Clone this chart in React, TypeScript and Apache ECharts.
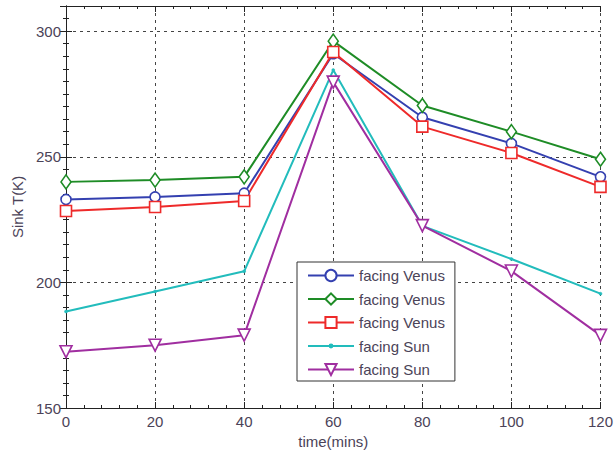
import React, { useEffect, useRef } from 'react';
import * as echarts from 'echarts';

const times = [0, 20, 40, 60, 80, 100, 120];
const venusBlue = [233, 234, 235.5, 291, 265.7, 255.3, 242];
const venusGreen = [240, 240.7, 242, 296, 270.4, 260, 249];
const venusRed = [228.4, 230, 232.4, 291.7, 262, 251.5, 238];
const sunCyan = [188.4, 196.4, 204.4, 284.5, 222.5, 209.3, 195.5];
const sunMagenta = [172.4, 175, 179, 279.7, 222.6, 204.5, 178.9];
const seriesNames = ['facing Venus 1', 'facing Venus 2', 'facing Venus 3', 'facing Sun 1', 'facing Sun 2'];

const FONT = "'Liberation Sans', Arial, sans-serif";
const TXT = '#4b4358';
const DOT = 'path://M0,0M12,12M4.5,6A1.5,1.5,0,1,0,7.5,6A1.5,1.5,0,1,0,4.5,6Z';

export default function App() {
  const ref = useRef<HTMLDivElement>(null);
  useEffect(() => {
    const chart = echarts.init(ref.current!, null, { renderer: 'svg' });
    const pairs = (ys: number[]) => times.map((t, i) => [t, ys[i]]);
    const axisLine = { show: true, lineStyle: { color: '#222', width: 1 } };
    const tick = { show: true, inside: true, length: 6, lineStyle: { color: '#222' } };
    const minor = (n: number) => ({ show: true, splitNumber: n, length: 3, lineStyle: { color: '#222' } });
    const split = { show: true, lineStyle: { color: '#444', type: [3, 4], width: 1 } };
    const mk = (name: string, data: number[], color: string, symbol: string, size: any, rotate = 0, filled = false) => ({
      type: 'line',
      name,
      data: pairs(data),
      symbol,
      symbolSize: size,
      symbolRotate: rotate,
      showSymbol: true,
      lineStyle: { color, width: 2 },
      itemStyle: filled
        ? { color, borderColor: color, borderWidth: 0.5 }
        : { color: '#fff', borderColor: color, borderWidth: 1.6 },
      color,
    });
    chart.setOption({
      animation: false,
      backgroundColor: '#fff',
      grid: { left: 66, right: 13, top: 6, bottom: 46 },
      legend: {
        left: 297,
        top: 262,
        orient: 'vertical',
        itemWidth: 46,
        itemHeight: 14,
        itemGap: 8.5,
        padding: [6, 10, 4, 10],
        borderColor: '#333',
        borderWidth: 1,
        backgroundColor: '#fff',
        formatter: (n: string) => n.replace(/ \d$/, ''),
        textStyle: { fontFamily: FONT, fontSize: 15, color: TXT },
        data: seriesNames,
      },
      xAxis: [
        {
          type: 'value', min: 0, max: 120, interval: 20, position: 'bottom',
          axisLine, axisTick: tick, minorTick: minor(5), splitLine: split,
          axisLabel: { fontFamily: FONT, fontSize: 15, color: TXT, margin: 6 },
          name: 'time(mins)', nameLocation: 'middle', nameGap: 24,
          nameTextStyle: { fontFamily: FONT, fontSize: 15, color: TXT },
        },
        {
          type: 'value', min: 0, max: 120, interval: 20, position: 'top',
          axisLine, axisTick: tick, minorTick: minor(5), splitLine: { show: false },
          axisLabel: { show: false },
        },
      ],
      yAxis: [
        {
          type: 'value', min: 150, max: 310, interval: 50, position: 'left',
          axisLine, axisTick: tick, minorTick: minor(10), splitLine: split,
          axisLabel: { fontFamily: FONT, fontSize: 15, color: TXT, margin: 5, showMaxLabel: false },
          name: 'Sink T(K)', nameLocation: 'middle', nameGap: 38,
          nameTextStyle: { fontFamily: FONT, fontSize: 15, color: TXT },
        },
        {
          type: 'value', min: 150, max: 310, interval: 50, position: 'right',
          axisLine, axisTick: tick, minorTick: minor(10), splitLine: { show: false },
          axisLabel: { show: false },
        },
      ],
      series: [
        mk(seriesNames[0], venusBlue, '#3440b0', 'circle', 10),
        mk(seriesNames[1], venusGreen, '#1e8c26', 'diamond', [10, 14]),
        mk(seriesNames[2], venusRed, '#ee2a2a', 'rect', 11),
        mk(seriesNames[3], sunCyan, '#22bcbc', DOT, 12, 0, true),
        mk(seriesNames[4], sunMagenta, '#a02ea0', 'triangle', 12, 180),
      ],
    });
    return () => chart.dispose();
  }, []);
  return <div ref={ref} style={{ width: 616, height: 454, position: 'fixed', left: 0, top: 0 }} />;
}
